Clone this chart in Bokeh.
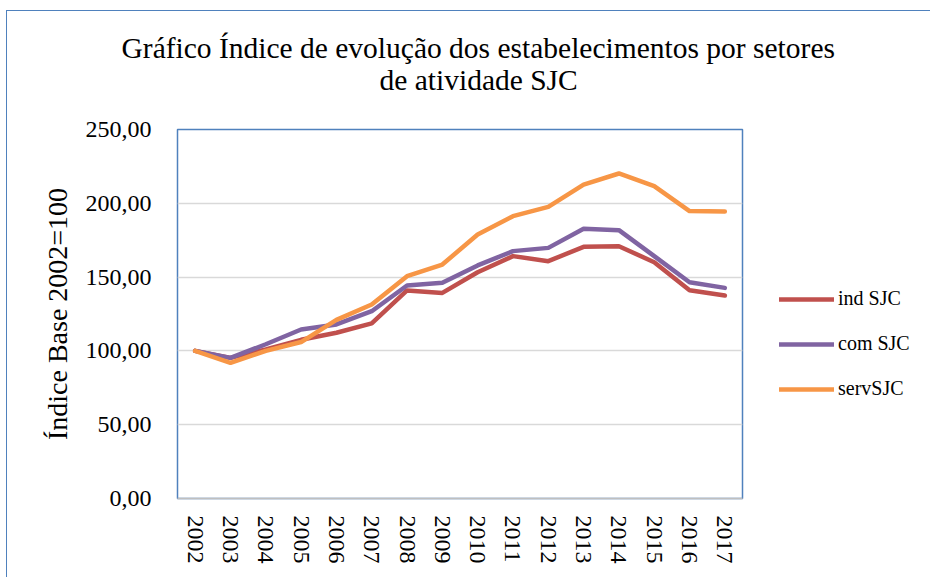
from bokeh.plotting import figure
from bokeh.models import (Legend, LegendItem, Title, FixedTicker, Range1d)
from bokeh.embed import file_html
from bokeh.resources import INLINE

years = ["2002", "2003", "2004", "2005", "2006", "2007", "2008", "2009",
         "2010", "2011", "2012", "2013", "2014", "2015", "2016", "2017"]
ind_sjc = [100.0, 95.3, 101.0, 107.5, 112.3, 118.6, 141.0, 139.3,
           153.3, 164.2, 160.8, 170.5, 170.9, 160.1, 141.1, 137.5]
com_sjc = [100.0, 95.3, 104.5, 114.5, 117.9, 126.9, 144.3, 146.1,
           157.9, 167.6, 169.8, 182.7, 181.8, 164.2, 146.5, 142.7]
serv_sjc = [100.0, 91.9, 100.0, 106.0, 121.0, 131.4, 150.6, 158.5,
            178.9, 191.3, 197.6, 212.7, 220.2, 211.6, 194.7, 194.4]
y_ticks = [0, 50, 100, 150, 200, 250]
y_tick_labels = ["0,00", "50,00", "100,00", "150,00", "200,00", "250,00"]
series_names = ["ind SJC", "com SJC", "servSJC"]
colors = ["#C0504D", "#8064A2", "#F79646"]

p = figure(x_range=years, y_range=Range1d(0, 250),
           frame_width=565, frame_height=369,
           output_backend="svg", toolbar_location=None,
           min_border_left=170, min_border_right=182,
           min_border_top=118, min_border_bottom=79)
p.styles = {"border": "1.5px solid #4F81BD", "border-bottom": "none",
            "margin-left": "6px", "margin-top": "10px"}

renderers = []
for vals, c in zip([ind_sjc, com_sjc, serv_sjc], colors):
    r = p.line(years, vals, line_color=c, line_width=4.5, line_cap="round",
               line_join="round")
    renderers.append(r)

p.outline_line_color = "#4F81BD"
p.outline_line_width = 1.5
p.background_fill_color = "white"
p.border_fill_color = "white"

p.xgrid.grid_line_color = None
p.ygrid.grid_line_color = "#D9D9D9"
p.ygrid.grid_line_width = 1.5
p.yaxis.ticker = FixedTicker(ticks=y_ticks)
p.yaxis.major_label_overrides = {t: l for t, l in zip(y_ticks, y_tick_labels)}
p.yaxis.axis_line_color = None
p.yaxis.major_tick_line_color = None
p.yaxis.minor_tick_line_color = None
p.yaxis.major_label_text_font = "Liberation Serif"
p.yaxis.major_label_text_font_size = "24px"
p.yaxis.major_label_text_color = "black"
p.yaxis.major_label_standoff = 20
p.yaxis.axis_label = "Índice Base 2002=100"
p.yaxis.axis_label_text_font = "Liberation Serif"
p.yaxis.axis_label_text_font_size = "28px"
p.yaxis.axis_label_text_font_style = "normal"
p.yaxis.axis_label_text_color = "black"
p.yaxis.axis_label_standoff = 10

p.xaxis.axis_line_color = "#BFBFBF"
p.xaxis.axis_line_width = 1.5
p.xaxis.major_tick_line_color = None
p.xaxis.minor_tick_line_color = None
p.xaxis.major_label_orientation = "vertical"
p.xaxis.major_label_text_font = "Liberation Serif"
p.xaxis.major_label_text_font_size = "24px"
p.xaxis.major_label_text_color = "black"
p.xaxis.major_label_standoff = 11

legend = Legend(items=[LegendItem(label=n, renderers=[r]) for n, r in zip(series_names, renderers)],
                location=(37, 98), orientation="vertical",
                glyph_width=55, glyph_height=20, label_height=20,
                label_standoff=4, spacing=22, padding=0, margin=0,
                border_line_color=None, background_fill_alpha=0,
                label_text_font="Liberation Serif", label_text_font_size="20px",
                label_text_color="black")
p.add_layout(legend, "right")

t2 = Title(text="de atividade SJC", align="left", offset=202, text_font="Liberation Serif",
           text_font_size="29.5px", text_font_style="normal", text_color="black",
           standoff=68)
t1 = Title(text="Gráfico Índice de evolução dos estabelecimentos por setores",
           align="left", offset=-56, text_font="Liberation Serif", text_font_size="29.5px",
           text_font_style="normal", text_color="black", standoff=-73)
p.add_layout(t2, "above")
p.add_layout(t1, "above")

open("out.html", "w").write(file_html(p, INLINE))
